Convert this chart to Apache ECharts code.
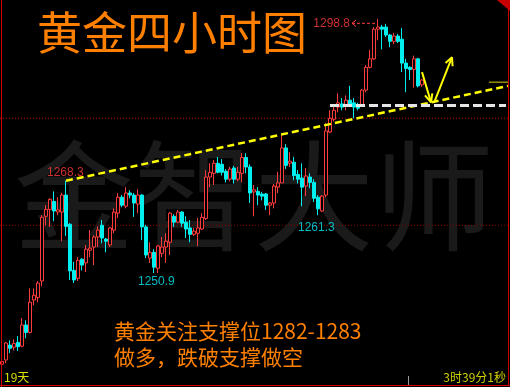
<!DOCTYPE html>
<html><head><meta charset="utf-8">
<script src="https://cdn.jsdelivr.net/npm/echarts@6/dist/echarts.min.js"></script>
<style>html,body{margin:0;padding:0;background:#000;overflow:hidden}#c{width:510px;height:387px}</style>
</head><body><div id="c"></div>
<script>
// ---- data: 4-hour gold candles [open, close, low, high] ----
const candles = [
[1233.7,1234.2,1233.0,1234.6],[1234.5,1237.7,1233.9,1237.9],[1237.3,1236.7,1235.8,1238.2],[1236.9,1237.6,1236.3,1238.4],
[1237.8,1237.0,1236.2,1239.0],[1237.1,1241.1,1236.9,1242.4],[1241.1,1239.7,1238.6,1242.0],[1239.7,1245.4,1239.5,1248.0],
[1245.8,1246.7,1244.8,1248.0],[1246.3,1249.0,1245.4,1249.4],[1249.4,1261.4,1248.4,1261.8],[1261.6,1262.9,1259.9,1263.7],
[1262.9,1264.8,1259.6,1265.0],[1264.4,1262.6,1260.7,1266.3],[1262.4,1262.8,1261.8,1265.2],[1262.4,1265.6,1256.9,1266.0],
[1265.6,1259.7,1257.9,1268.3],[1260.1,1251.3,1249.6,1260.3],[1251.4,1249.6,1249.0,1253.0],[1249.9,1253.3,1249.4,1253.9],
[1253.5,1252.4,1251.4,1253.7],[1252.8,1255.4,1251.1,1256.2],[1255.2,1255.6,1253.9,1259.0],[1255.8,1257.7,1252.4,1258.0],
[1257.7,1259.0,1255.8,1259.7],[1259.9,1257.5,1256.5,1260.9],[1257.3,1256.9,1254.8,1257.5],[1256.2,1259.4,1255.8,1259.6],
[1259.0,1262.4,1258.4,1263.1],[1262.2,1265.2,1261.3,1266.0],[1265.2,1263.7,1263.3,1265.6],[1263.5,1266.0,1263.1,1267.1],
[1266.0,1265.6,1265.0,1266.5],[1265.6,1264.1,1261.5,1266.0],[1263.9,1265.6,1262.2,1266.7],[1265.6,1259.6,1257.1,1265.8],
[1259.6,1254.3,1253.7,1260.0],[1253.7,1254.8,1252.8,1256.7],[1254.8,1252.0,1250.9,1255.4],[1251.8,1256.0,1250.9,1256.2],
[1254.6,1255.8,1253.9,1257.7],[1255.8,1256.9,1252.8,1258.4],[1256.7,1262.2,1254.3,1262.4],[1261.6,1260.5,1259.6,1262.0],
[1260.5,1262.4,1260.3,1262.8],[1262.4,1260.3,1259.6,1262.6],[1260.5,1259.2,1257.5,1261.6],[1259.4,1258.2,1256.7,1260.9],
[1258.2,1258.8,1257.9,1259.4],[1258.4,1259.4,1256.0,1261.3],[1259.2,1261.4,1259.0,1262.2],[1261.2,1269.0,1260.9,1270.3],
[1269.0,1269.9,1267.1,1271.6],[1269.7,1271.6,1267.5,1272.2],[1271.6,1269.9,1269.7,1272.8],[1271.4,1269.9,1269.3,1272.4],
[1270.1,1268.6,1268.0,1270.5],[1268.6,1270.5,1268.2,1270.9],[1270.7,1268.6,1267.8,1271.1],[1268.6,1269.9,1268.2,1270.9],
[1269.7,1272.7,1268.0,1273.5],[1272.7,1270.9,1269.7,1273.5],[1270.9,1266.0,1264.1,1271.4],[1266.2,1266.6,1261.6,1267.5],
[1266.3,1265.6,1263.7,1267.1],[1265.8,1265.4,1264.6,1266.2],[1265.8,1263.7,1262.8,1266.0],[1263.7,1264.1,1261.8,1264.3],
[1264.1,1267.3,1263.1,1267.7],[1267.1,1267.9,1266.0,1270.0],[1267.9,1274.5,1267.9,1276.9],[1274.5,1271.2,1270.5,1275.2],
[1271.6,1272.0,1270.9,1273.7],[1271.8,1269.3,1268.4,1272.8],[1269.5,1268.6,1267.8,1270.3],[1268.8,1267.1,1263.5,1271.6],
[1267.3,1269.2,1265.4,1270.7],[1269.0,1268.0,1266.9,1269.7],[1268.0,1265.0,1264.3,1268.6],[1265.2,1263.0,1261.8,1265.6],
[1262.6,1265.4,1262.4,1265.6],[1265.6,1277.7,1265.2,1279.2],[1277.5,1280.1,1277.3,1281.6],[1279.9,1281.6,1279.5,1282.4],
[1282.2,1283.0,1281.2,1284.8],[1282.8,1282.2,1281.6,1283.9],[1282.6,1283.5,1281.6,1284.4],[1283.5,1282.6,1282.2,1286.2],
[1283.0,1282.2,1280.1,1283.9],[1282.6,1282.0,1281.6,1283.0],[1282.4,1285.4,1282.2,1285.6],[1285.4,1289.7,1285.0,1290.1],
[1289.7,1291.3,1289.5,1293.0],[1291.3,1296.9,1291.1,1297.3],[1296.9,1297.3,1294.8,1298.8],[1297.3,1296.9,1293.1,1297.7],
[1297.3,1295.8,1295.4,1297.9],[1295.8,1294.6,1293.5,1296.0],[1294.6,1295.6,1294.1,1296.2],[1295.6,1294.6,1294.3,1296.0],
[1295.0,1290.5,1288.8,1297.1],[1290.5,1289.5,1285.0,1291.3],[1289.7,1289.3,1287.3,1289.9],[1289.3,1291.3,1285.9,1291.9],
[1291.3,1286.2,1285.9,1291.5],[1286.4,1287.3,1286.0,1287.5]
];
const slotCount = 127;                       // bars + empty space to the right edge
const categories = Array.from({length: slotCount}, (_, i) => 'K' + (i + 1));
const priceMin = 1229.4, priceMax = 1302.4;

// ---- annotations (x in bar index units, y in price) ----
const trendLine   = [[16, 1268.3], [126.5, 1286.2]];
const supportLine = [[82, 1282.5], [126, 1282.5]];
const lastPriceTick = [[121.75, 1286.9], [126.5, 1286.9]];
const redLevelA = [[-0.5, 1280.1], [126.5, 1280.1]];
const redLevelB = [[-0.5, 1259.9], [126.5, 1259.9]];
const arrowDownShaft = [[105.0, 1288.8], [107.25, 1283.1]];
const arrowDownHead  = [[105.75, 1284.4], [107.25, 1283.1], [107.58, 1284.8]];
const arrowUpShaft   = [[108.0, 1283.0], [112.5, 1291.6]];
const arrowUpHead    = [[110.88, 1290.5], [112.5, 1291.6], [112.65, 1289.9]];
const highPointer     = [[93.25, 1298.0], [87.5, 1298.0]];
const highPointerHead = [[88.5, 1298.6], [87.5, 1298.0], [88.5, 1297.4]];
const priceLabels = [
  {text: '1298.8', at: [87.0, 1297.9], side: 'left',  color: '#ff3c3c'},
  {text: '1268.3', at: [11.25, 1269.9], side: 'right', color: '#ff3c3c'},
  {text: '1250.9', at: [34.0, 1249.2], side: 'right', color: '#00e8f0'},
  {text: '1261.3', at: [74.0, 1259.4], side: 'right', color: '#00e8f0'}
];
const titleText = '黄金四小时图';
const noteLine1 = '黄金关注支撑位1282-1283';
const noteLine2 = '做多，跌破支撑做空';
const watermark = '金智大师';
const leftFoot = '19天';
const rightFoot = '3时39分1秒';

const CJK = '"Noto Sans CJK SC", "Noto Sans", sans-serif';
const chart = echarts.init(document.getElementById('c'), null, {renderer: 'canvas'});

function annot(data, color, width, type, z) {
  return {type: 'line', xAxisIndex: 1, yAxisIndex: 0, data: data, symbol: 'none',
    silent: true, z: z || 5, animation: false,
    lineStyle: {color: color, width: width, type: type || 'solid', cap: 'butt'}};
}

chart.setOption({
  backgroundColor: '#000000',
  animation: false,
  grid: {left: 0, top: 0, width: 508, height: 387, containLabel: false},
  xAxis: [
    {type: 'category', data: categories, show: false, boundaryGap: true, gridIndex: 0},
    {type: 'value', min: -0.5, max: slotCount - 0.5, show: false, gridIndex: 0}
  ],
  yAxis: [{type: 'value', min: priceMin, max: priceMax, show: false, scale: true}],
  graphic: [
    {type: 'text', z: -10, style: {text: watermark, x: 254, y: 196, align: 'center', verticalAlign: 'middle',
      font: '120px ' + CJK, fill: '#1a1a1a'}},
    {type: 'text', z: 20, style: {text: titleText, x: 37, y: 33, align: 'left', verticalAlign: 'middle',
      font: '45px ' + CJK, fill: '#ff8000'}},
    {type: 'text', z: 20, style: {text: noteLine1, x: 114, y: 331, align: 'left', verticalAlign: 'middle',
      font: '21px ' + CJK, fill: '#ff8000'}},
    {type: 'text', z: 20, style: {text: noteLine2, x: 114, y: 357, align: 'left', verticalAlign: 'middle',
      font: '21px ' + CJK, fill: '#ff8000'}},
    {type: 'text', z: 20, style: {text: leftFoot, x: 4, y: 377, align: 'left', verticalAlign: 'middle',
      font: '12px ' + CJK, fill: '#d8e000'}},
    {type: 'text', z: 20, style: {text: rightFoot, x: 506, y: 377, align: 'right', verticalAlign: 'middle',
      font: '12px ' + CJK, fill: '#d0d000'}},
    {type: 'line', z: 30, shape: {x1: 1.5, y1: 0, x2: 1.5, y2: 387}, style: {stroke: '#d00000', lineWidth: 1}},
    {type: 'line', z: 30, shape: {x1: 508.5, y1: 0, x2: 508.5, y2: 386}, style: {stroke: '#d00000', lineWidth: 1}},
    {type: 'line', z: 30, shape: {x1: 0, y1: 385.5, x2: 510, y2: 385.5}, style: {stroke: '#d00000', lineWidth: 1}},
    {type: 'line', z: 30, shape: {x1: 408.5, y1: 376, x2: 408.5, y2: 385}, style: {stroke: '#9a9a9a', lineWidth: 1}},
    {type: 'polygon', z: 30, shape: {points: [[497, 0], [510, 0], [510, 11]]}, style: {fill: '#c80000'}}
  ],
  series: [
    annot(redLevelA, '#c00000', 1, [1, 2], 1),
    annot(redLevelB, '#8a0000', 1, [1, 2], 1),
    {
      type: 'candlestick', name: '黄金', xAxisIndex: 0, yAxisIndex: 0, data: candles,
      barWidth: 3, z: 3, silent: true,
      itemStyle: {color: '#000000', borderColor: '#ff3c3c', color0: '#00f0f0', borderColor0: '#00f0f0',
        borderColorDoji: '#ff3c3c', borderWidth: 1}
    },
    annot(trendLine, '#ffff00', 2.5, [7, 4], 6),
    annot(supportLine, '#e6e6e6', 3, [9, 4], 6),
    annot(lastPriceTick, '#e0d000', 1, 'solid', 6),
    annot(arrowDownShaft, '#ffff00', 2, 'solid', 7),
    annot(arrowDownHead, '#ffff00', 2, 'solid', 7),
    annot(arrowUpShaft, '#ffff00', 2, 'solid', 7),
    annot(arrowUpHead, '#ffff00', 2, 'solid', 7),
    annot(highPointer, '#ff3c3c', 1, [3, 2], 7),
    annot(highPointerHead, '#ff3c3c', 1, 'solid', 7),
    {
      type: 'scatter', xAxisIndex: 1, yAxisIndex: 0, symbolSize: 0, silent: true, z: 8,
      data: priceLabels.map(l => ({value: l.at,
        label: {show: true, position: l.side, distance: 0, formatter: l.text, color: l.color,
          fontSize: 12, fontFamily: '"Liberation Sans", Arial, sans-serif'}}))
    }
  ]
});
</script></body></html>
